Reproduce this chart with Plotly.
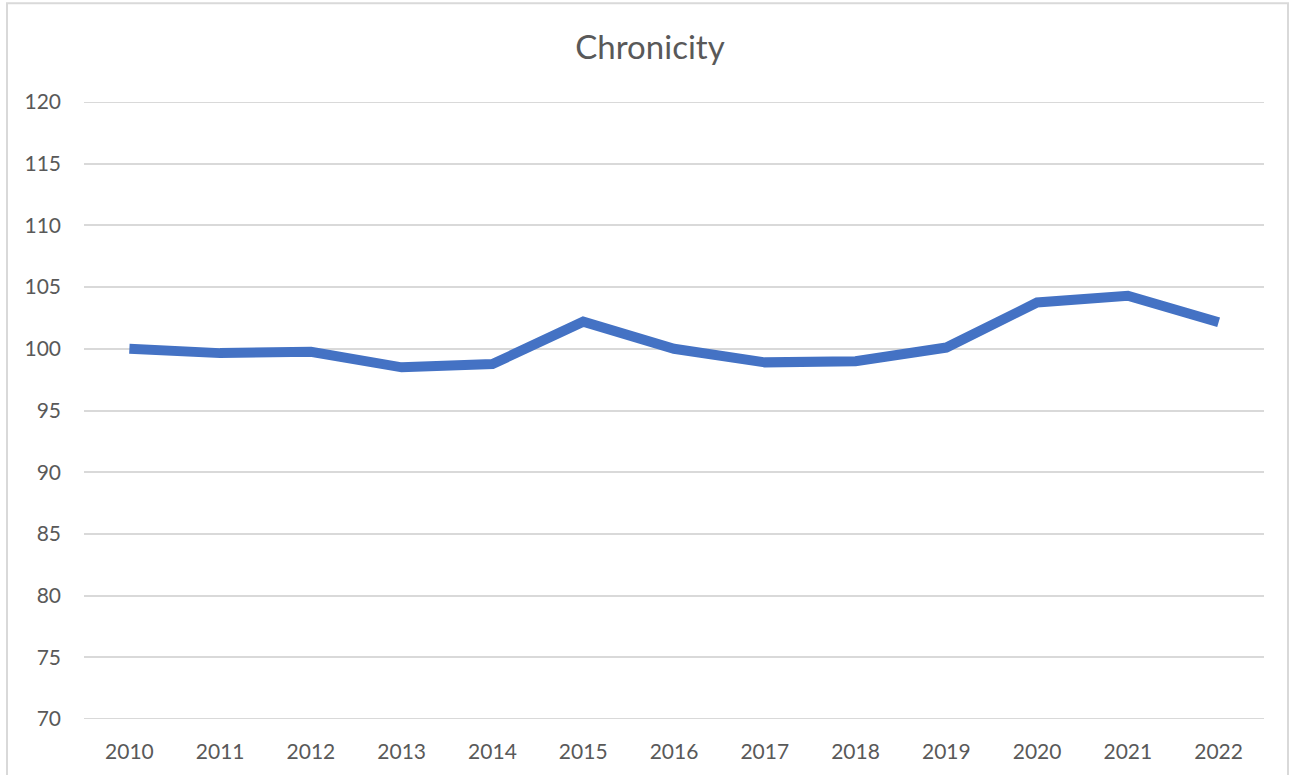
import plotly.graph_objects as go

# Yearly chronicity index
years = ["2010", "2011", "2012", "2013", "2014", "2015", "2016",
         "2017", "2018", "2019", "2020", "2021", "2022"]
chronicity = [100.0, 99.65, 99.76, 98.5, 98.76, 102.2, 100.0,
              98.9, 99.0, 100.1, 103.75, 104.3, 102.15]
y_ticks = [70, 75, 80, 85, 90, 95, 100, 105, 110, 115, 120]

W, H = 1297, 775
L, R, T, B = 84, 33, 102, 54
plot_w = W - L - R
plot_h = H - T - B

text_color = "#595959"
grid_color = "#D9D9D9"
font_family = "Lato, 'Open Sans', sans-serif"

fig = go.Figure()
fig.add_trace(go.Scatter(
    x=years,
    y=chronicity,
    mode="lines",
    line=dict(color="#4472C4", width=10),
    hoverinfo="x+y",
    showlegend=False,
))


def px_to_paper_x(px):
    return (px - L) / plot_w


def px_to_paper_y(py):
    return (H - B - py) / plot_h


fig.update_layout(
    width=W,
    height=H,
    margin=dict(l=L, r=R, t=T, b=B),
    paper_bgcolor="white",
    plot_bgcolor="white",
    font=dict(family=font_family, color=text_color),
    title=dict(
        text="Chronicity",
        x=650 / W,
        xref="container",
        xanchor="center",
        y=1 - 47 / H,
        yref="container",
        yanchor="middle",
        font=dict(size=33, color=text_color, family=font_family),
    ),
    xaxis=dict(
        type="category",
        range=[-0.5, len(years) - 0.5],
        showgrid=False,
        showline=False,
        zeroline=False,
        ticks="",
        tickfont=dict(size=21, color=text_color),
        ticklabelstandoff=18,
        fixedrange=True,
    ),
    yaxis=dict(
        range=[y_ticks[0], y_ticks[-1]],
        tickvals=y_ticks,
        ticktext=[str(v) for v in y_ticks],
        showgrid=True,
        gridcolor=grid_color,
        gridwidth=2,
        zeroline=False,
        showline=False,
        ticks="",
        tickfont=dict(size=21, color=text_color),
        ticklabelstandoff=22,
        fixedrange=True,
    ),
    shapes=[
        # outer chart frame
        dict(
            type="rect",
            xref="paper",
            yref="paper",
            x0=px_to_paper_x(7),
            x1=px_to_paper_x(1288),
            y0=px_to_paper_y(800),
            y1=px_to_paper_y(3),
            line=dict(color=grid_color, width=2),
            fillcolor="rgba(0,0,0,0)",
            layer="below",
        ),
        # gridlines at the axis limits
        dict(
            type="line",
            xref="paper",
            yref="y",
            x0=0,
            x1=1,
            y0=y_ticks[0],
            y1=y_ticks[0],
            line=dict(color=grid_color, width=2),
            layer="below",
        ),
        dict(
            type="line",
            xref="paper",
            yref="y",
            x0=0,
            x1=1,
            y0=y_ticks[-1],
            y1=y_ticks[-1],
            line=dict(color=grid_color, width=2),
            layer="below",
        ),
    ],
)

fig.write_html("out.html")
